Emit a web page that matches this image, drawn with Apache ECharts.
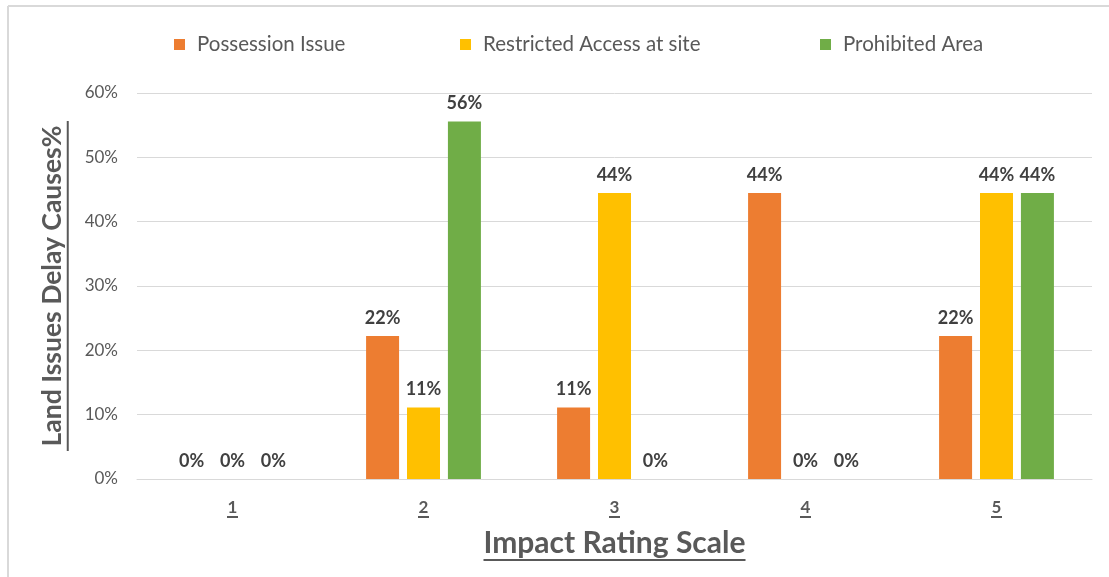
<!DOCTYPE html>
<html>
<head>
<meta charset="utf-8">
<script src="https://cdn.jsdelivr.net/npm/echarts@6/dist/echarts.min.js"></script>
<style>html,body{margin:0;padding:0;background:#fff}#c{width:1109px;height:577px}</style>
</head>
<body>
<div id="c"></div>
<script>
const categories = ['1', '2', '3', '4', '5'];
const seriesNames = ['Possession Issue', 'Restricted Access at site', 'Prohibited Area'];
const possession = [0, 22.22, 11.11, 44.44, 22.22];
const restricted = [0, 11.11, 44.44, 0, 44.44];
const prohibited = [0, 55.56, 0, 0, 44.44];
const yTicks = [0, 10, 20, 30, 40, 50, 60];

const colors = ['#ED7D31', '#FFC000', '#70AD47'];
const FONT = 'Lato';
const GRAY = '#595959';

const chart = echarts.init(document.getElementById('c'), null, {renderer: 'canvas'});

function mkSeries(name, data, color) {
  return {
    name: name, type: 'bar', data: data, barWidth: 33, barGap: '24%',
    itemStyle: {color: color},
    label: {
      show: true, position: 'top', distance: 9,
      formatter: p => Math.round(p.value) + '%',
      fontFamily: FONT, fontWeight: 'bold', fontSize: 18, color: '#404040'
    }
  };
}
function mkLegend(name, left) {
  return {
    data: [name], left: left, top: 34, padding: 0, itemWidth: 11, itemHeight: 11, itemGap: 0,
    icon: 'rect', textStyle: {fontFamily: FONT, fontSize: 20.5, color: GRAY, padding: [0, 0, 0, 7]}
  };
}

chart.setOption({
  animation: false,
  backgroundColor: '#fff',
  legend: [
    mkLegend(seriesNames[0], 174),
    mkLegend(seriesNames[1], 460),
    mkLegend(seriesNames[2], 820)
  ],
  grid: {left: 137, right: 17, top: 93, bottom: 98, containLabel: false},
  xAxis: {
    type: 'category', data: categories,
    axisLine: {lineStyle: {color: '#d9d9d9', width: 1}},
    axisTick: {show: false},
    axisLabel: {
      margin: 20,
      formatter: v => '{t|' + v + '}\n{u|}',
      rich: {
        t: {fontFamily: FONT, fontWeight: 'bold', fontSize: 17, color: GRAY, lineHeight: 17, align: 'center'},
        u: {width: 11, height: 2, backgroundColor: GRAY, align: 'center'}
      }
    },
    name: '{t|Impact Rating Scale}\n{u|}',
    nameLocation: 'middle', nameGap: 33,
    nameTextStyle: {
      rich: {
        t: {fontFamily: FONT, fontWeight: 'bold', fontSize: 30, color: GRAY, lineHeight: 32, align: 'center'},
        u: {width: 262, height: 2, backgroundColor: GRAY, align: 'center'}
      }
    }
  },
  yAxis: {
    type: 'value', min: yTicks[0], max: yTicks[yTicks.length - 1], interval: 10,
    axisLine: {show: false}, axisTick: {show: false},
    splitLine: {lineStyle: {color: '#d9d9d9', width: 1}},
    axisLabel: {margin: 19, formatter: '{value}%', fontFamily: FONT, fontSize: 17, color: GRAY},
    name: '{t|Land Issues Delay Causes%}\n{u|}',
    nameLocation: 'middle', nameRotate: 90, nameGap: 53,
    nameTextStyle: {
      rich: {
        t: {fontFamily: FONT, fontWeight: 'bold', fontSize: 26.5, color: GRAY, lineHeight: 28, align: 'center'},
        u: {width: 330, height: 2, backgroundColor: GRAY, align: 'center'}
      }
    }
  },
  graphic: [
    {type: 'line', shape: {x1: 8, y1: 6, x2: 1109, y2: 6}, style: {stroke: '#d9d9d9', lineWidth: 2}, silent: true},
    {type: 'line', shape: {x1: 8, y1: 6, x2: 8, y2: 577}, style: {stroke: '#d9d9d9', lineWidth: 2}, silent: true}
  ],
  series: [
    mkSeries(seriesNames[0], possession, colors[0]),
    mkSeries(seriesNames[1], restricted, colors[1]),
    mkSeries(seriesNames[2], prohibited, colors[2])
  ]
});
</script>
</body>
</html>
